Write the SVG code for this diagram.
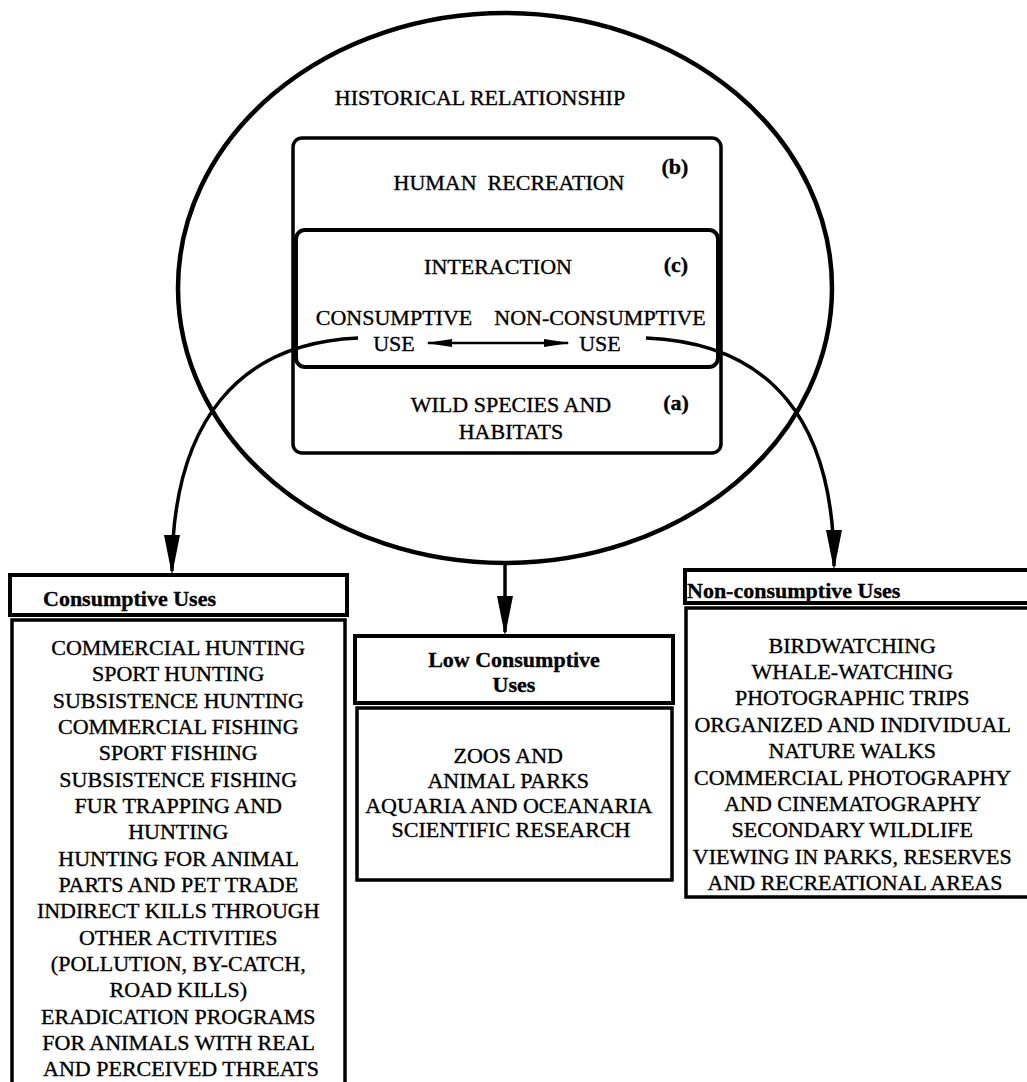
<svg xmlns="http://www.w3.org/2000/svg" width="1027" height="1082" viewBox="0 0 1027 1082">
  <style>
    text { font-family: "Liberation Serif", "Times New Roman", serif; font-size: 22px; fill: #000; stroke: #000; stroke-width: 0.35; }
    .b { font-weight: bold; }
    .m { text-anchor: middle; }
    .frame { fill: none; stroke: #000; }
    .conn { fill: none; stroke: #000; stroke-width: 3.5; }
  </style>
  <defs>
    <marker id="head" markerUnits="userSpaceOnUse" markerWidth="40" markerHeight="18" viewBox="0 0 40 18" refX="36" refY="9" orient="auto">
      <path d="M0,1 L40,9 L0,17 Z" fill="#000"/>
    </marker>
    <marker id="dart" markerUnits="userSpaceOnUse" markerWidth="26" markerHeight="10" viewBox="0 0 26 10" refX="24" refY="5" orient="auto-start-reverse">
      <path d="M0,1 L26,5 L0,9 Z" fill="#000"/>
    </marker>
  </defs>

  <!-- outer ellipse: the historical relationship -->
  <g id="historical">
    <ellipse cx="505" cy="288" rx="327" ry="275" class="frame" stroke-width="4.5"/>
    <text x="480" y="105" class="m">HISTORICAL RELATIONSHIP</text>
  </g>

  <!-- stacked boxes (b) recreation, (a) species/habitats -->
  <g id="recreation-habitats">
    <rect x="293" y="138" width="428" height="315" rx="9" class="frame" stroke-width="3.5"/>
    <text x="509" y="190" class="m" xml:space="preserve">HUMAN  RECREATION</text>
    <text x="675" y="174" class="m b">(b)</text>
    <text x="511" y="412" class="m">WILD SPECIES AND</text>
    <text x="511" y="439" class="m">HABITATS</text>
    <text x="676" y="410" class="m b">(a)</text>
  </g>

  <!-- (c) interaction band -->
  <g id="interaction">
    <rect x="296" y="230" width="422" height="137" rx="9" class="frame" stroke-width="4"/>
    <text x="498" y="274" class="m">INTERACTION</text>
    <text x="676" y="272" class="m b">(c)</text>
    <text x="394" y="325" class="m">CONSUMPTIVE</text>
    <text x="394" y="351" class="m">USE</text>
    <text x="600" y="325" class="m">NON-CONSUMPTIVE</text>
    <text x="600" y="351" class="m">USE</text>
  </g>

  <!-- consumptive uses -->
  <g id="consumptive">
    <rect x="10" y="575" width="337" height="40" class="frame" stroke-width="4"/>
    <text x="43" y="606" class="b">Consumptive Uses</text>
    <rect x="12" y="620" width="333" height="480" class="frame" stroke-width="3.5"/>
    <text class="m">
      <tspan x="181" y="655">COMMERCIAL HUNTING</tspan>
      <tspan x="181" y="681.3">SPORT HUNTING</tspan>
      <tspan x="181" y="707.6">SUBSISTENCE HUNTING</tspan>
      <tspan x="181" y="734">COMMERCIAL FISHING</tspan>
      <tspan x="181" y="760.3">SPORT FISHING</tspan>
      <tspan x="181" y="786.6">SUBSISTENCE FISHING</tspan>
      <tspan x="181" y="813">FUR TRAPPING AND</tspan>
      <tspan x="181" y="839.2">HUNTING</tspan>
      <tspan x="181" y="865.5">HUNTING FOR ANIMAL</tspan>
      <tspan x="181" y="891.9">PARTS AND PET TRADE</tspan>
      <tspan x="181" y="918.2">INDIRECT KILLS THROUGH</tspan>
      <tspan x="181" y="944.5">OTHER ACTIVITIES</tspan>
      <tspan x="181" y="970.8">(POLLUTION, BY-CATCH,</tspan>
      <tspan x="181" y="997.2">ROAD KILLS)</tspan>
      <tspan x="181" y="1023.5">ERADICATION PROGRAMS</tspan>
      <tspan x="181" y="1049.8">FOR ANIMALS WITH REAL</tspan>
      <tspan x="181" y="1076">AND PERCEIVED THREATS</tspan>
    </text>
  </g>

  <!-- low consumptive uses -->
  <g id="low-consumptive">
    <rect x="355" y="636" width="318" height="67" class="frame" stroke-width="4"/>
    <text x="514" y="667" class="m b">Low Consumptive</text>
    <text x="514" y="692" class="m b">Uses</text>
    <rect x="357" y="708" width="315" height="172" class="frame" stroke-width="3.5"/>
    <text class="m">
      <tspan x="511" y="763">ZOOS AND</tspan>
      <tspan x="511" y="787.5">ANIMAL PARKS</tspan>
      <tspan x="511" y="812.5">AQUARIA AND OCEANARIA</tspan>
      <tspan x="511" y="837">SCIENTIFIC RESEARCH</tspan>
    </text>
  </g>

  <!-- non-consumptive uses -->
  <g id="non-consumptive">
    <rect x="685" y="570" width="350" height="33" class="frame" stroke-width="4"/>
    <text x="687" y="598" class="b">Non-consumptive Uses</text>
    <rect x="686" y="608" width="350" height="289" class="frame" stroke-width="3.5"/>
    <text class="m">
      <tspan x="855" y="652.5">BIRDWATCHING</tspan>
      <tspan x="855" y="678.9">WHALE-WATCHING</tspan>
      <tspan x="855" y="705.3">PHOTOGRAPHIC TRIPS</tspan>
      <tspan x="855" y="731.7">ORGANIZED AND INDIVIDUAL</tspan>
      <tspan x="855" y="758.1">NATURE WALKS</tspan>
      <tspan x="855" y="784.5">COMMERCIAL PHOTOGRAPHY</tspan>
      <tspan x="855" y="810.9">AND CINEMATOGRAPHY</tspan>
      <tspan x="855" y="837.3">SECONDARY WILDLIFE</tspan>
      <tspan x="855" y="863.7">VIEWING IN PARKS, RESERVES</tspan>
      <tspan x="855" y="890.1">AND RECREATIONAL AREAS</tspan>
    </text>
  </g>

  <!-- connectors -->
  <g id="connectors">
    <line x1="428" y1="343" x2="568" y2="343" stroke="#000" stroke-width="2.5" marker-start="url(#dart)" marker-end="url(#dart)"/>
    <path d="M358,338 C240,343 172,420 172,571" class="conn" marker-end="url(#head)"/>
    <path d="M646,338 C770,343 834,420 834,566" class="conn" marker-end="url(#head)"/>
    <path d="M505,563 L505,632" class="conn" marker-end="url(#head)"/>
  </g>
</svg>
